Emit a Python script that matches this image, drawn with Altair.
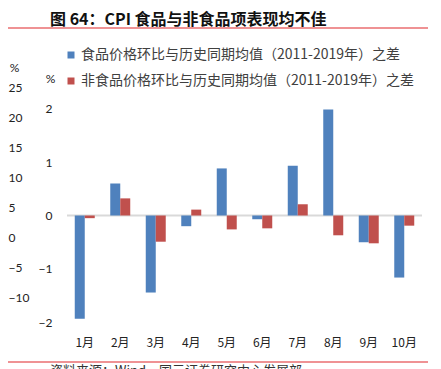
import altair as alt
import pandas as pd

months = ["1月", "2月", "3月", "4月", "5月", "6月", "7月", "8月", "9月", "10月"]
food = [-1.93, 0.60, -1.44, -0.20, 0.88, -0.07, 0.93, 1.98, -0.50, -1.16]
nonfood = [-0.05, 0.32, -0.49, 0.11, -0.26, -0.24, 0.21, -0.37, -0.52, -0.19]
series = ["食品价格环比与历史同期均值（2011-2019年）之差",
          "非食品价格环比与历史同期均值（2011-2019年）之差"]
colors = ["#4F81BD", "#C0504D"]
inner_ticks = [2, 1, 0, -1, -2]
outer_ticks = [25, 20, 15, 10, 5, 0, -5, -10]
title_text = "图 64：CPI 食品与非食品项表现均不佳"
source_text = "资料来源：Wind，国元证券研究中心发展部"

rows = []
for m, a, b in zip(months, food, nonfood):
    rows.append({"month": m, "series": series[0], "value": a})
    rows.append({"month": m, "series": series[1], "value": b})
df = pd.DataFrame(rows)

W, H = 355, 255
LBL = "Lato"
CJK = "Noto Sans CJK SC"

yin = alt.Scale(domain=[-2.234, 2.533], nice=False, zero=False)

bars = alt.Chart(df).mark_bar().encode(
    x=alt.X("month:N", sort=months,
            scale=alt.Scale(paddingInner=0.437, paddingOuter=0.2185),
            axis=alt.Axis(title=None, labelAngle=0, domain=False, ticks=False,
                          labelPadding=2, labelFont=CJK, labelFontSize=12,
                          labelColor="#222222")),
    xOffset=alt.XOffset("series:N", sort=series, scale=alt.Scale(paddingInner=0, paddingOuter=0)),
    y=alt.Y("value:Q", scale=yin,
            axis=alt.Axis(title="%", titleAngle=0, titleX=-17, titleY=-2,
                          titleAlign="center", titleBaseline="middle",
                          titleFont=LBL, titleFontSize=12, titleFontWeight="normal",
                          titleColor="#222222", format="d",
                          values=inner_ticks, domain=False, ticks=False, grid=False,
                          labelPadding=15, labelFont=LBL, labelFontSize=12,
                          labelColor="#222222")),
    color=alt.Color("series:N", sort=series,
                    scale=alt.Scale(domain=series, range=colors),
                    legend=alt.Legend(title=None, orient="none", legendX=-3, legendY=-32,
                                      symbolType="square", symbolSize=49,
                                      symbolStrokeWidth=0, labelOffset=3,
                                      labelFont=CJK, labelFontSize=14,
                                      labelColor="#404040", rowPadding=12,
                                      labelLimit=400, padding=0)),
)

zero = alt.Chart(alt.Data(values=[{"v": 0}])).mark_rule(color="#D9D9D9", strokeWidth=2).encode(
    y=alt.Y("v:Q", scale=yin)
)

one = alt.Data(values=[{"a": 1}])
title = alt.Chart(one).mark_text(
    text=title_text, font=CJK, fontSize=16, fontWeight="bold",
    align="left", baseline="middle", color="#111111"
).encode(x=alt.value(-17), y=alt.value(-60))

top_line = alt.Chart(one).mark_rule(color="#E0262B", strokeWidth=1.2).encode(
    x=alt.value(-67), x2=alt.value(361), y=alt.value(-52))
bot_line = alt.Chart(one).mark_rule(color="#E0262B", strokeWidth=1.2).encode(
    x=alt.value(-67), x2=alt.value(361), y=alt.value(282))
source = alt.Chart(one).mark_text(
    text=source_text, font=CJK, fontSize=13, align="left", baseline="top",
    color="#333333"
).encode(x=alt.value(-17), y=alt.value(285))

inner = alt.layer(zero, bars, title, top_line, bot_line, source)

outer = alt.Chart(pd.DataFrame({"t": outer_ticks})).mark_point(opacity=0).encode(
    y=alt.Y("t:Q", scale=alt.Scale(domain=[-16.33, 26.17], nice=False, zero=False),
            axis=alt.Axis(orient="left", offset=50, title="%", titleAngle=0,
                          titleX=-3, titleY=-13, titleAlign="center",
                          titleBaseline="middle", titleFont=LBL, titleFontSize=12,
                          titleFontWeight="normal", titleColor="#222222",
                          values=outer_ticks, domain=False, ticks=False, grid=False,
                          labelAlign="left", labelPadding=9, labelFont=LBL,
                          labelFontSize=12, labelColor="#222222"))
)

chart = alt.layer(inner, outer).resolve_scale(y="independent").properties(
    width=W, height=H,
    autosize=alt.AutoSizeParams(type="none"),
    padding={"left": 59, "top": 72, "right": 11, "bottom": 34},
).configure_view(stroke=None)

chart.save("out.html", embed_options={"renderer": "svg", "actions": False})
